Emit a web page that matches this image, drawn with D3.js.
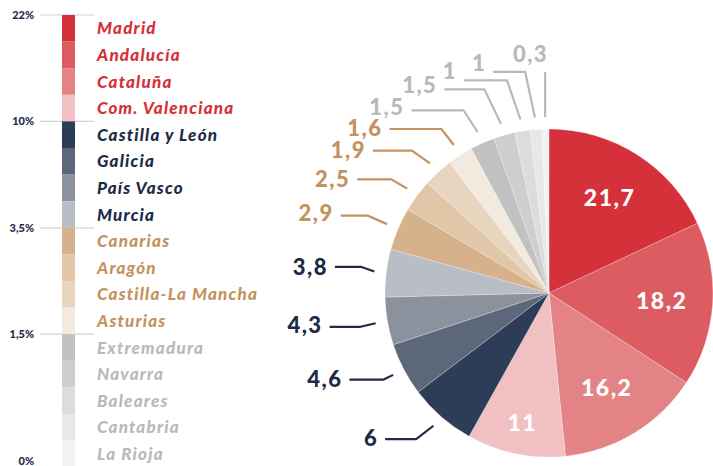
<!DOCTYPE html>
<html>
<head>
<meta charset="utf-8">
<script src="https://cdn.jsdelivr.net/npm/d3@7"></script>
<style>
  html, body { margin: 0; padding: 0; background: #fff; }
  svg { display: block; }
</style>
</head>
<body>
<div id="chart"></div>
<script>
// ---------------- DATA ----------------
const regions = ["Madrid", "Andalucía", "Cataluña", "Com. Valenciana", "Castilla y León", "Galicia",
  "País Vasco", "Murcia", "Canarias", "Aragón", "Castilla-La Mancha", "Asturias",
  "Extremadura", "Navarra", "Baleares", "Cantabria", "La Rioja"];
// values printed on the chart
const values = [21.7, 18.2, 16.2, 11, 6, 4.6, 4.3, 3.8, 2.9, 2.5, 1.9, 1.6, 1.5, 1.5, 1, 1, 0.3];
// angular share of each slice as drawn in the picture (%)
const sliceShares = [18.0, 16.2, 14.2, 9.7, 6.6, 5.2, 4.7, 4.7, 4.2, 3.2, 2.95, 2.5, 2.4, 2.1, 1.5, 1.15, 0.7];
// colour group of each region
const groups = ["a", "a", "a", "a", "b", "b", "b", "b", "c", "c", "c", "c", "d", "d", "d", "d", "d"];
// legend scale ticks
const tickLabels = ["22%", "10%", "3,5%", "1,5%", "0%"];
const tickSteps = [0, 4, 8, 12, 17];

// ---------------- STYLE ----------------
const fills = ["#d5313a", "#dc5c61", "#e38386", "#f1c0c3", "#2e3d57", "#5c6779", "#8b919d", "#b9bdc5",
  "#d5b28b", "#e1c6a7", "#e8d5bf", "#f2e9df", "#c1c1c1", "#cecece", "#dcdcdc", "#e8e8e8", "#f2f2f2"];
const groupText = { a: "#d5313a", b: "#1e2b47", c: "#c4925e", d: "#b9b9b9" };

const W = 713, H = 466;
const svg = d3.select("#chart").append("svg").attr("width", W).attr("height", H);

// ---------------- LEGEND SCALE ----------------
const band = d3.scaleBand().domain(regions).range([15, 15 + 17 * 26.6]).padding(0);
const stepY = i => 15 + i * band.step();

const axisG = svg.append("g");
axisG.selectAll("line").data(tickSteps).join("line")
  .attr("x1", 40).attr("x2", 94)
  .attr("y1", d => stepY(d)).attr("y2", d => stepY(d))
  .attr("stroke", "#d2d2d2").attr("stroke-width", 1.2);
axisG.selectAll("text").data(tickLabels).join("text")
  .attr("x", 34).attr("y", (d, i) => Math.min(stepY(tickSteps[i]), 461))
  .attr("dy", "0.36em")
  .attr("text-anchor", "end")
  .attr("font-family", "Lato, sans-serif").attr("font-weight", 900)
  .attr("font-size", 11).attr("fill", "#1e2b47")
  .text(d => d);

svg.append("g").selectAll("rect").data(regions).join("rect")
  .attr("x", 62).attr("width", 13)
  .attr("y", d => band(d)).attr("height", band.bandwidth())
  .attr("fill", (d, i) => fills[i]);

svg.append("g").selectAll("text").data(regions).join("text")
  .attr("x", 97).attr("y", d => band(d) + band.bandwidth() / 2)
  .attr("dy", "0.36em")
  .attr("font-family", "Lato, sans-serif").attr("font-weight", 900).attr("font-style", "italic")
  .attr("font-size", 17).attr("letter-spacing", 1.2)
  .attr("fill", (d, i) => groupText[groups[i]])
  .text(d => d);

// ---------------- PIE ----------------
const cx = 549, cy = 293, R = 164;
const pieData = regions.map((r, i) => ({ region: r, value: values[i], share: sliceShares[i], i }));
const pie = d3.pie().value(d => d.share).sort(null);
const arcs = pie(pieData);
const arc = d3.arc().innerRadius(0).outerRadius(R);

const pg = svg.append("g").attr("transform", `translate(${cx},${cy})`);
pg.selectAll("path").data(arcs).join("path")
  .attr("d", arc)
  .attr("fill", d => fills[d.data.i])
  .attr("stroke", "#ffffff").attr("stroke-width", 0.4).attr("stroke-opacity", 0.6);

const fmt = v => String(v).replace(".", ",");
const mid = d => (d.startAngle + d.endAngle) / 2;
const polar = (a, r) => [Math.sin(a) * r, -Math.cos(a) * r];

// inside labels (first four slices)
const insideR = [113, 113, 111, 132];
pg.selectAll("text.in").data(arcs.slice(0, 4)).join("text")
  .attr("class", "in")
  .attr("x", (d, k) => polar(mid(d), insideR[k])[0])
  .attr("y", (d, k) => polar(mid(d), insideR[k])[1])
  .attr("dy", "0.36em")
  .attr("text-anchor", "middle")
  .attr("font-family", "Lato, sans-serif").attr("font-weight", 900)
  .attr("font-size", 23).attr("letter-spacing", 1.5)
  .attr("fill", "#ffffff")
  .text(d => fmt(d.data.value));

// outside labels with leader lines: [elbow dx, elbow dy, leg length, text dy]
const leaderLayout = [
  [-17.3, 13.4, 31, -1],
  [-9.7, 4.7, 34, -0.4],
  [-16, 3.7, 30, -1.7],
  [-13.4, -4.7, 26, 0],
  [-19.3, -8.4, 27, -2.3],
  [-16, -9.3, 34, -0.7],
  [-18, -12.7, 39, -0.6],
  [-12.3, -16, 52, -1.4],
  [-14, -21.7, 52, -3.3],
  [-16.6, -34.3, 40, -4.7],
  [-13.3, -39, 43, -9.3],
  [-9.7, -45.6, 32, -9],
  [0, -45, 0, -17.7]
];
const outer = arcs.slice(4);
const og = pg.append("g");
outer.forEach((d, k) => {
  const [ex, ey] = polar(mid(d), 176);
  const L = leaderLayout[k];
  const bx = ex + L[0], by = ey + L[1];
  const hx = bx - L[2];
  const col = groupText[groups[d.data.i]];
  og.append("path")
    .attr("d", d3.line()([[ex, ey], [bx, by], [hx, by]]))
    .attr("fill", "none").attr("stroke", col).attr("stroke-width", 2.2);
  const isLast = L[2] === 0;
  og.append("text")
    .attr("x", isLast ? hx + 3 : hx - 7)
    .attr("y", by + L[3])
    .attr("dy", "0.36em")
    .attr("text-anchor", "end")
    .attr("font-family", "Lato, sans-serif").attr("font-weight", 900)
    .attr("font-size", 22).attr("letter-spacing", 1.5)
    .attr("fill", col)
    .text(fmt(d.data.value));
});
</script>
</body>
</html>
